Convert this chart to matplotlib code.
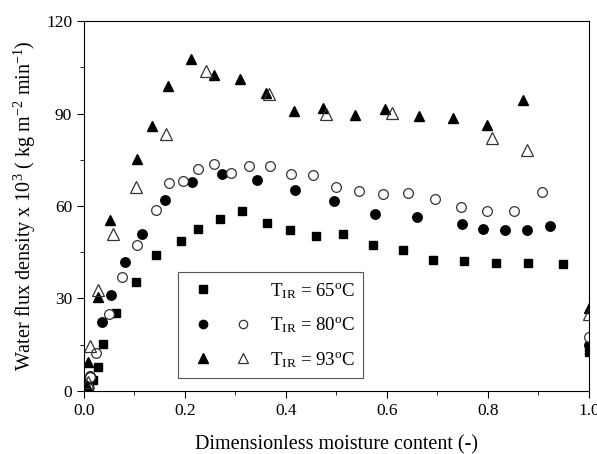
import numpy as np
import matplotlib
matplotlib.use('Agg')
import matplotlib.pyplot as plt
from matplotlib.lines import Line2D
from matplotlib.legend_handler import HandlerTuple

plt.rcParams['font.family'] = 'Liberation Serif'
plt.rcParams['mathtext.fontset'] = 'custom'
plt.rcParams['mathtext.rm'] = 'Liberation Serif'
plt.rcParams['mathtext.it'] = 'Liberation Serif:italic'

# T_IR = 65 C (filled squares)
x65 = [0.010, 0.017, 0.027, 0.037, 0.063, 0.102, 0.143, 0.193, 0.226, 0.270, 0.313, 0.362,
       0.408, 0.459, 0.512, 0.572, 0.632, 0.692, 0.752, 0.816, 0.880, 0.948, 1.0]
y65 = [1.5, 3.6, 7.9, 15.1, 25.2, 35.3, 44.0, 48.8, 52.5, 55.8, 58.4, 54.4,
       52.1, 50.3, 50.9, 47.4, 45.6, 42.5, 42.2, 41.5, 41.5, 41.1, 12.7]

# T_IR = 80 C, run 1 (filled circles)
x80a = [0.008, 0.012, 0.036, 0.054, 0.082, 0.115, 0.160, 0.214, 0.274, 0.343, 0.417,
        0.496, 0.577, 0.659, 0.748, 0.790, 0.834, 0.878, 0.923, 1.0]
y80a = [2.5, 5.0, 22.5, 31.2, 41.9, 51.0, 61.8, 67.8, 70.3, 68.5, 65.2,
        61.6, 57.4, 56.4, 54.3, 52.5, 52.1, 52.1, 53.6, 14.9]

# T_IR = 80 C, run 2 (open circles)
x80b = [0.007, 0.012, 0.023, 0.050, 0.075, 0.104, 0.143, 0.169, 0.197, 0.226, 0.258, 0.292,
        0.326, 0.368, 0.409, 0.454, 0.499, 0.545, 0.592, 0.642, 0.695, 0.747, 0.799,
        0.851, 0.907, 1.0]
y80b = [1.0, 4.5, 12.2, 25.0, 37.0, 47.5, 58.7, 67.3, 68.0, 72.0, 73.5, 70.7,
        72.9, 73.0, 70.3, 70.0, 66.2, 64.8, 64.0, 64.1, 62.2, 59.6, 58.4,
        58.4, 64.4, 17.6]

# T_IR = 93 C, run 1 (filled triangles)
x93a = [0.005, 0.007, 0.028, 0.052, 0.105, 0.135, 0.166, 0.212, 0.258, 0.308, 0.361,
        0.416, 0.474, 0.536, 0.597, 0.664, 0.730, 0.799, 0.870, 1.0]
y93a = [1.5, 9.5, 30.5, 55.4, 75.1, 86.0, 99.0, 107.7, 102.6, 101.1, 96.5,
        90.7, 91.7, 89.4, 91.6, 89.2, 88.5, 86.2, 94.4, 26.8]

# T_IR = 93 C, run 2 (open triangles)
x93b = [0.008, 0.011, 0.028, 0.057, 0.102, 0.162, 0.242, 0.366, 0.479, 0.609, 0.807,
        0.877, 1.0]
y93b = [3.0, 14.6, 32.8, 50.9, 66.1, 83.4, 103.8, 96.2, 89.9, 90.3, 82.2,
        78.2, 24.9]

labels = [r'T$_{\rm IR}$ = 65$^{\rm o}$C', r'T$_{\rm IR}$ = 80$^{\rm o}$C', r'T$_{\rm IR}$ = 93$^{\rm o}$C']

fig = plt.figure(figsize=(5.97, 4.54), dpi=100)
ax = fig.add_axes([0.1407, 0.1388, 0.8459, 0.8149])

ax.plot(x65, y65, 's', color='black', ms=6.3, ls='none')
ax.plot(x80a, y80a, 'o', color='black', ms=6.8, ls='none')
ax.plot(x80b, y80b, 'o', mfc='white', mec='#333333', mew=0.9, ms=7.0, ls='none')
ax.plot(x93a, y93a, '^', color='black', ms=7.5, ls='none')
ax.plot(x93b, y93b, '^', mfc='none', mec='#333333', mew=0.9, ms=8.0, ls='none')

ax.set_xlim(0, 1.0)
ax.set_ylim(0, 120)
ax.set_xticks(np.arange(0, 1.01, 0.2))
ax.set_xticks(np.arange(0, 1.01, 0.1), minor=True)
ax.set_yticks(np.arange(0, 121, 30))
ax.set_yticks(np.arange(0, 121, 15), minor=True)
ax.xaxis.set_major_formatter(matplotlib.ticker.FormatStrFormatter('%.1f'))
ax.tick_params(which='both', direction='out', top=False, right=False, labelsize=12.5)
ax.tick_params(which='major', length=5)
ax.tick_params(which='minor', length=3)

ax.set_xlabel('Dimensionless moisture content (-)', fontsize=14.5, labelpad=12)
ax.set_ylabel(r'Water flux density x 10$^{3}$ ( kg m$^{-2}$ min$^{-1}$)', fontsize=14.5, labelpad=6)

blank = Line2D([], [], ls='none')
h65 = Line2D([], [], marker='s', color='black', ms=5.5, ls='none')
h80a = Line2D([], [], marker='o', color='black', ms=6.0, ls='none')
h80b = Line2D([], [], marker='o', mfc='white', mec='#333333', mew=0.9, ms=6.0, ls='none')
h93a = Line2D([], [], marker='^', color='black', ms=6.5, ls='none')
h93b = Line2D([], [], marker='^', mfc='none', mec='#333333', mew=0.9, ms=7.0, ls='none')

lgd = ax.legend([(h65, blank), (h80a, h80b), (h93a, h93b)], labels,
                handler_map={tuple: HandlerTuple(ndivide=None, pad=0.3)},
                loc='lower left', bbox_to_anchor=(0.186, 0.035), borderaxespad=0,
                handlelength=3.9, fontsize=13.6, fancybox=False, edgecolor='#555555',
                framealpha=1, borderpad=0.45, labelspacing=0.78, handletextpad=0.5)
lgd.get_frame().set_linewidth(0.8)

fig.savefig('out.png', dpi=100)
